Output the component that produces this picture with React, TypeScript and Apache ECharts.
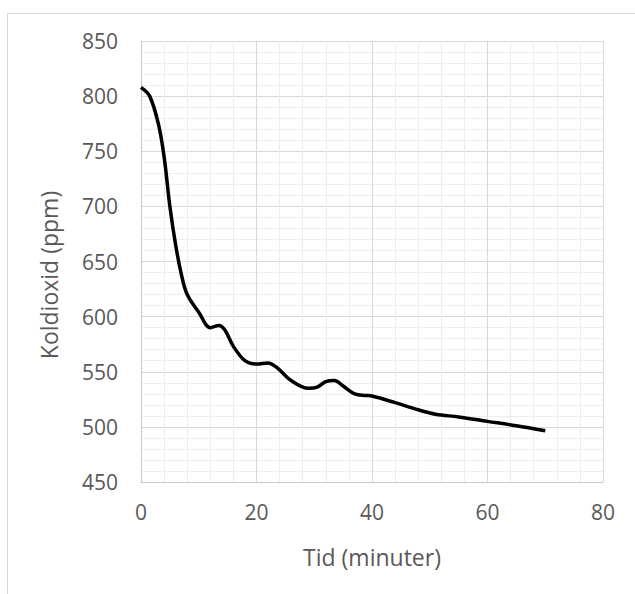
import React, { useEffect, useRef } from "react";
import * as echarts from "echarts";

const timeMinutes = [0, 1.5, 3, 4, 5, 6, 7, 8, 10, 12, 13.5, 14.5, 16, 18, 20, 22, 23.5, 26, 29, 30.5, 32, 33.5, 35, 37, 39, 40, 44, 48, 51, 55, 60, 65, 70];
const co2Ppm = [808, 800, 775, 745, 700, 665, 638, 620, 604, 590, 592, 588, 573, 560, 557, 558, 554, 542, 535, 536, 541, 542, 537, 530, 528.5, 528, 522, 515.5, 511.5, 509, 505, 501, 496.5];
const xTitle = "Tid (minuter)";
const yTitle = "Koldioxid (ppm)";

export default function App() {
  const ref = useRef<HTMLDivElement>(null);
  useEffect(() => {
    if (!ref.current) return;
    const chart = echarts.init(ref.current, undefined, { renderer: "svg" });
    const font = "'Open Sans', sans-serif";
    const labelColor = "#595959";
    chart.setOption({
      animation: false,
      backgroundColor: "#ffffff",
      grid: { left: 141, top: 41, width: 462, height: 441, containLabel: false },
      xAxis: {
        type: "value",
        min: 0,
        max: 80,
        interval: 20,
        name: xTitle,
        nameLocation: "middle",
        nameGap: 63,
        nameTextStyle: { color: labelColor, fontSize: 23, fontFamily: font },
        axisLine: { show: true, lineStyle: { color: "#c8c8c8", width: 1 } },
        axisTick: { show: false },
        axisLabel: { color: labelColor, fontSize: 21, fontFamily: font, margin: 19 },
        splitLine: { show: true, lineStyle: { color: "#d9d9d9", width: 1 } },
        minorTick: { show: false, splitNumber: 5 },
        minorSplitLine: { show: true, lineStyle: { color: "#eeeeee", width: 1 } },
      },
      yAxis: {
        type: "value",
        min: 450,
        max: 850,
        interval: 50,
        axisLine: { show: true, lineStyle: { color: "#c8c8c8", width: 1 } },
        axisTick: { show: false },
        axisLabel: { color: labelColor, fontSize: 21, fontFamily: font, margin: 23 },
        splitLine: { show: true, lineStyle: { color: "#d9d9d9", width: 1 } },
        minorTick: { show: false, splitNumber: 5 },
        minorSplitLine: { show: true, lineStyle: { color: "#eeeeee", width: 1 } },
      },
      graphic: [
        {
          type: "rect",
          shape: { x: 7.5, y: 13.5, width: 800, height: 800 },
          style: { fill: "none", stroke: "#d9d9d9", lineWidth: 1 },
          silent: true,
        },
        {
          type: "text",
          x: 49,
          y: 275,
          rotation: Math.PI / 2,
          style: {
            text: yTitle,
            fill: labelColor,
            fontSize: 23,
            fontFamily: font,
            align: "center",
            verticalAlign: "middle",
          },
        },
      ],
      series: [
        {
          type: "line",
          data: timeMinutes.map((t, i) => [t, co2Ppm[i]]),
          showSymbol: false,
          smooth: 0.35,
          lineStyle: { color: "#000000", width: 3.5 },
        },
      ],
    });
    return () => chart.dispose();
  }, []);
  return <div ref={ref} style={{ position: "absolute", left: 0, top: 0, width: 635, height: 594 }} />;
}
